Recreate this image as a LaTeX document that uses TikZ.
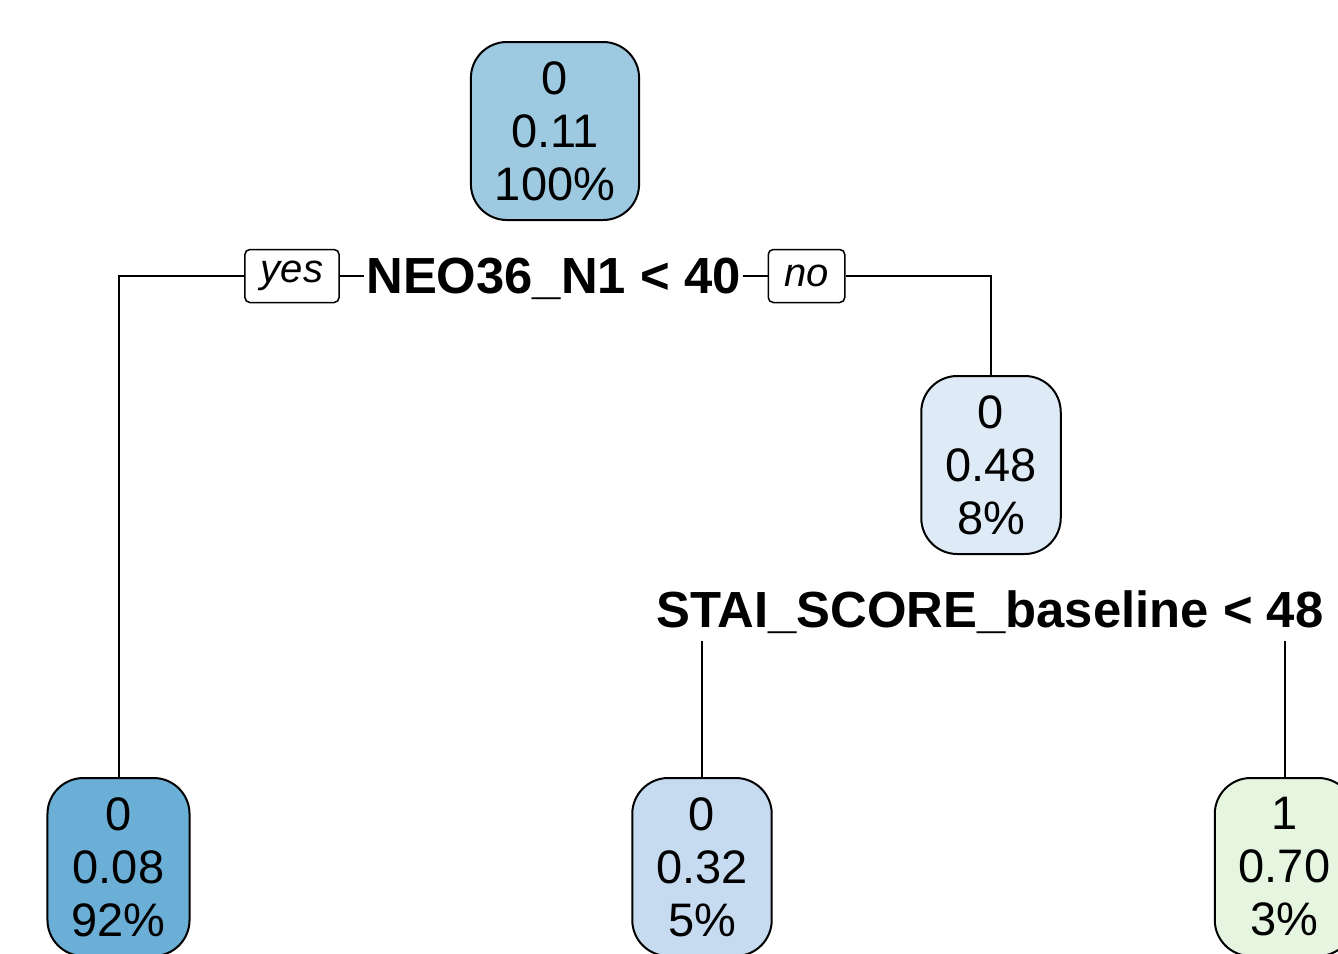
\documentclass[tikz,border=0pt]{standalone}
\usepackage{fontspec}
\setmainfont{Liberation Sans}
\definecolor{rootblue}{HTML}{9ECAE1}
\definecolor{deepblue}{HTML}{6BAED6}
\definecolor{paleblue}{HTML}{DEEBF7}
\definecolor{midblue}{HTML}{C6DBEF}
\definecolor{palegreen}{HTML}{E5F5E0}
\begin{document}
\begin{tikzpicture}[x=0.5pt,y=-0.5pt,line width=1pt,
      leaf/.style={draw,rounded corners=18pt,align=center,inner xsep=12pt,
        minimum height=89pt,font=\fontsize{23.5}{26.5}\selectfont},
      split/.style={font=\fontsize{25.4}{30}\selectfont\bfseries,inner xsep=0.5pt,inner ysep=3pt},
      tag/.style={draw,rounded corners=2.5pt,fill=white,line width=0.75pt,
        minimum height=26.5pt,inner xsep=8pt,font=\fontsize{20}{24}\selectfont\itshape}]
      \useasboundingbox(0,0)rectangle(1338,953);
      % first split
      \node[leaf,fill=rootblue](root)at(555,131){0\\0.11\\100\%};
      \node[split](neo)at(553.5,279){NEO36\_N1 < 40};
      \node[tag](yes)at(292,276){yes};
      \node[tag](no)at(806.5,276){no};
      % second split
      \node[leaf,fill=paleblue](right)at(991,465){0\\0.48\\8\%};
      \node[split](stai)at(990,612){STAI\_SCORE\_baseline < 48};
      % leaves
      \node[leaf,fill=deepblue](leafa)at(118.5,867){0\\0.08\\92\%};
      \node[leaf,fill=midblue](leafb)at(702,867){0\\0.32\\5\%};
      \node[leaf,fill=palegreen](leafc)at(1284.5,867){1\\0.70\\3\%};
      \draw(yes.west)-|(leafa.north);
      \draw(yes.east)--(yes.east-|neo.west) (neo.east|-no.west)--(no.west);
      \draw(no.east)-|(right.north);
      \draw(stai.south-|leafb.north)--(leafb.north)
         (stai.south-|leafc.north)--(leafc.north);
    \end{tikzpicture}
\end{document}
